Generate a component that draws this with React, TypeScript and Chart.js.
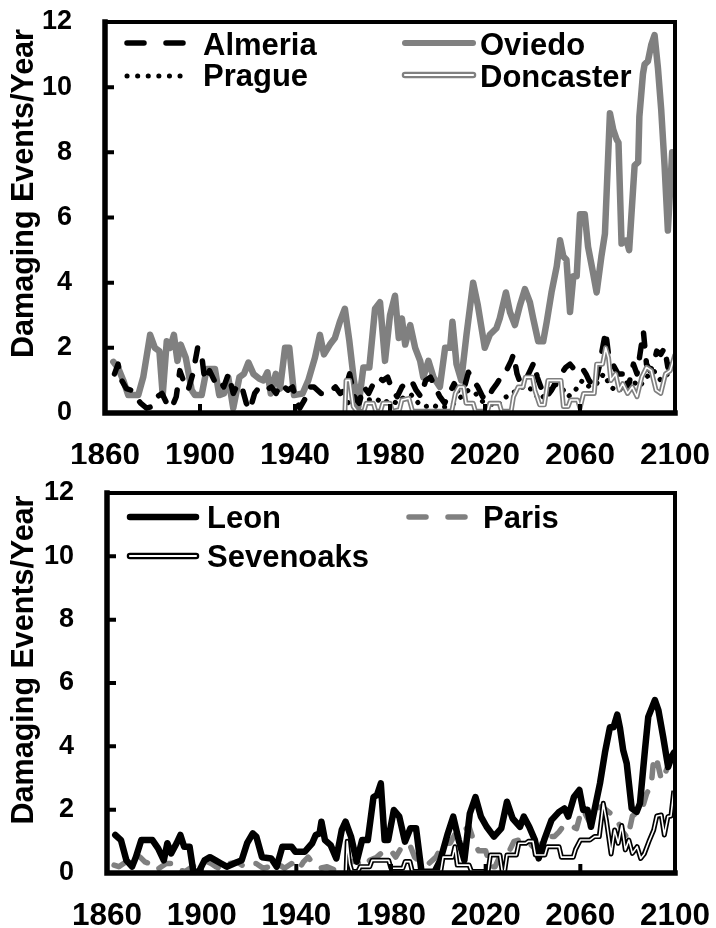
import React, { useEffect, useRef } from "react";
import { Chart, registerables } from "chart.js";

Chart.register(...registerables);

const FONT = "'Liberation Sans', Arial, Helvetica, sans-serif";

// ---------- axes ----------
const xTickValues = [1860, 1900, 1940, 1980, 2020, 2060, 2100];
const xTickLabels = ["1860", "1900", "1940", "1980", "2020", "2060", "2100"];
const yTickValues = [0, 2, 4, 6, 8, 10, 12];
const yTickLabels = ["0", "2", "4", "6", "8", "10", "12"];
const yAxisTitle = "Damaging Events/Year";

// ---------- top panel ----------
const oviedoYears = [1863.5, 1865.6, 1867.7, 1869.8, 1874, 1876.1, 1879, 1881, 1882.9, 1884.3, 1886, 1887.4, 1889, 1890.5, 1891.9, 1894, 1896.5, 1897.9, 1900.7, 1902.8, 1906.3, 1908.1, 1910.1, 1911.9, 1914, 1916.6, 1918.5, 1920.4, 1922.5, 1925, 1926.7, 1928.4, 1929.8, 1931.9, 1933.7, 1935.8, 1937.6, 1939.6, 1943.2, 1945.6, 1948.4, 1950.5, 1952.2, 1954.7, 1956.8, 1958.9, 1961, 1962.9, 1964.8, 1966.7, 1968.8, 1971.3, 1973.7, 1975.8, 1977.9, 1980, 1982.1, 1983.7, 1985, 1986.4, 1988.5, 1990.6, 1992.7, 1994, 1996.2, 1998.3, 2001, 2003.2, 2005.3, 2006.3, 2008, 2010, 2012.2, 2015, 2017, 2019.9, 2022, 2024.8, 2026.2, 2028.8, 2030.5, 2032.6, 2034.7, 2036.8, 2038.9, 2040.3, 2042.4, 2044.5, 2046, 2048, 2050.2, 2051.6, 2053, 2054.3, 2055.8, 2057.2, 2058.6, 2060, 2062, 2063.4, 2065.5, 2067, 2069, 2070.5, 2072.6, 2074, 2075.4, 2076.2, 2077.5, 2079.6, 2080.7, 2083, 2084.5, 2085, 2086.5, 2087.2, 2088.6, 2090, 2091.4, 2092.8, 2094.2, 2095.6, 2097, 2098.8];
const oviedoValues = [1.57, 1.37, 1.0, 0.55, 0.55, 1.1, 2.4, 2.0, 1.9, 0.55, 2.2, 2.0, 2.4, 1.6, 2.1, 1.7, 0.7, 0.55, 0.55, 1.35, 1.35, 0.55, 0.6, 1.1, 0.15, 1.1, 1.2, 1.55, 1.2, 1.05, 1.0, 1.25, 0.6, 1.2, 0.75, 2.0, 2.0, 0.55, 0.6, 1.0, 1.7, 2.4, 1.8, 2.1, 2.3, 2.8, 3.2, 2.2, 1.0, 0.2, 1.4, 1.4, 3.2, 3.4, 1.6, 3.0, 3.6, 2.3, 2.9, 2.1, 2.7, 2.0, 1.6, 1.1, 1.6, 1.1, 0.8, 2.0, 2.0, 2.8, 1.5, 1.0, 2.4, 4.0, 3.3, 2.0, 2.4, 2.6, 2.9, 3.7, 3.1, 2.7, 3.3, 3.8, 3.4, 2.9, 2.2, 2.2, 2.8, 3.7, 4.5, 5.3, 4.8, 4.7, 3.1, 4.2, 4.2, 6.1, 6.1, 5.1, 4.3, 3.7, 4.8, 5.5, 9.2, 8.7, 8.4, 8.3, 5.2, 5.3, 5.0, 7.6, 7.7, 9.1, 10.4, 10.7, 10.8, 11.3, 11.6, 10.6, 9.3, 7.6, 5.6, 8.0];

const almeriaYears = [1864, 1865.5, 1867, 1869, 1871, 1873, 1875, 1877.5, 1880, 1882, 1884, 1886, 1888, 1890, 1891.5, 1893, 1895, 1897, 1899, 1900.5, 1902, 1904, 1906, 1908, 1910, 1912, 1914, 1916, 1918, 1919.5, 1921, 1923, 1925, 1928, 1930, 1932, 1934, 1937, 1939, 1940.5, 1942, 1944, 1946, 1948, 1951, 1954, 1957, 1959, 1961, 1963, 1965, 1967, 1969, 1971, 1973, 1975, 1977, 1979, 1981, 1983, 1985, 1987, 1989, 1991, 1993, 1995, 1997, 1999, 2001, 2003, 2005, 2007, 2009, 2011, 2013, 2015, 2017, 2019, 2021, 2023, 2025, 2027, 2029, 2031, 2032, 2033.5, 2035, 2037, 2039, 2040.6, 2042, 2044, 2046, 2048, 2049.5, 2052, 2054, 2055.8, 2058, 2060.7, 2062.5, 2063.8, 2066, 2068, 2070.8, 2072, 2074.5, 2076, 2078, 2080, 2082.5, 2084, 2086.7, 2088, 2089.5, 2091, 2092.3, 2094, 2095.6, 2097, 2099];
const almeriaValues = [1.2, 1.5, 1.0, 0.75, 0.7, 0.5, 0.3, 0.15, 0.2, 0.5, 0.6, 0.3, 0.15, 0.5, 1.3, 1.0, 0.7, 1.2, 2.0, 1.9, 1.0, 1.3, 1.0, 1.1, 0.8, 1.2, 0.6, 0.9, 0.7, 0.3, 0.1, 0.6, 0.8, 0.7, 0.8, 0.6, 0.9, 0.7, 0.8, 0.4, 0.15, 0.4, 0.8, 0.8, 0.6, 0.6, 0.8, 0.6, 0.7, 1.2, 0.5, 0.3, 0.8, 0.6, 0.9, 1.1, 1.0, 1.1, 0.7, 0.5, 0.8, 0.95, 1.0, 0.7, 0.5, 1.0, 1.1, 0.8, 0.5, 0.3, 0.6, 0.9, 0.6, 0.7, 1.25, 1.0, 0.8, 0.5, 0.4, 0.7, 0.9, 1.15, 1.3, 1.6, 1.8, 1.2, 0.9, 1.0, 1.3, 1.55, 1.1, 0.7, 0.5, 0.7, 0.9, 1.2, 1.4, 1.5, 1.3, 1.4, 1.2, 1.0, 0.8, 1.4, 2.5, 1.8, 1.4, 1.2, 1.2, 0.7, 1.5, 1.2, 2.5, 1.5, 1.3, 1.5, 1.9, 1.8, 2.0, 1.4, 1.5];

const pragueYears = [1961, 1963, 1965, 1968, 1971, 1974, 1977, 1980, 1983, 1986, 1989, 1992, 1995, 1998, 2001, 2004, 2007, 2010, 2013, 2016, 2019, 2022, 2025, 2028, 2031, 2034, 2037, 2040, 2043, 2046, 2049, 2052, 2055, 2058, 2061, 2064, 2067, 2070, 2073, 2076, 2079, 2082, 2085, 2088, 2091, 2094, 2097, 2100];
const pragueValues = [0.6, 0.2, 0.4, 0.5, 0.4, 0.45, 0.3, 0.4, 0.3, 0.5, 0.55, 0.3, 0.2, 0.25, 0.15, 0.2, 0.3, 0.5, 0.7, 0.6, 0.35, 0.3, 0.2, 0.45, 0.6, 0.7, 0.85, 0.7, 0.4, 0.6, 0.9, 0.8, 0.5, 0.7, 1.0, 0.8, 0.9, 1.2, 0.8, 0.65, 0.9, 1.0, 0.8, 1.1, 1.3, 1.0, 1.2, 1.4];

const doncasterYears = [1961, 1961.5, 1963, 1964.5, 1966, 1969, 1970, 1973, 1974, 1976, 1977, 1980, 1981, 1984, 1985, 1988, 1989.5, 2006, 2007.5, 2009, 2011, 2012, 2015, 2016, 2021, 2022, 2026, 2027, 2031, 2032, 2034, 2036, 2037, 2040, 2041, 2043, 2045, 2046.5, 2052, 2053, 2055, 2056, 2059, 2060, 2061.5, 2066, 2067, 2069.5, 2070.8, 2072, 2073, 2075, 2076.5, 2078, 2080, 2082, 2084, 2086, 2088, 2090, 2092, 2094, 2096, 2098, 2100];
const doncasterValues = [0, 1.0, 1.0, 0.2, 0.05, 0.05, 0.3, 0.3, 0.05, 0.05, 0.3, 0.3, 0.05, 0.1, 0.4, 0.45, 0.05, 0.05, 0.6, 0.8, 0.8, 0.3, 0.3, 0.05, 0.05, 0.3, 0.3, 0.05, 0.05, 0.5, 0.8, 0.8, 1.1, 1.1, 0.7, 0.25, 0.25, 1.0, 1.0, 0.2, 0.2, 0.4, 0.4, 0.15, 0.6, 0.6, 1.5, 1.5, 2.0, 1.7, 1.0, 1.2, 0.7, 0.9, 0.6, 0.8, 0.5, 1.1, 1.4, 1.3, 0.7, 0.6, 1.2, 1.3, 1.8];

// ---------- bottom panel ----------
const leonYears = [1863.5, 1865.9, 1868.2, 1870.6, 1872.2, 1874.5, 1879.2, 1881.6, 1884, 1885.5, 1887.1, 1889.4, 1891, 1892.6, 1894.9, 1896.5, 1898.8, 1901.2, 1903.5, 1905.9, 1908.2, 1910.6, 1913.7, 1916.9, 1919.2, 1921.6, 1923.1, 1925.5, 1929.4, 1931.7, 1934.1, 1938, 1939.6, 1943.5, 1946.7, 1948.2, 1949.8, 1950.6, 1952.1, 1954.5, 1956.9, 1959.2, 1960.8, 1963.1, 1965.5, 1967.8, 1970.2, 1972.6, 1974.1, 1975.7, 1977.3, 1978.8, 1981.2, 1983.5, 1985.9, 1988.2, 1990.6, 1992.9, 1998.4, 2000.8, 2004, 2006.3, 2008.6, 2011, 2013.3, 2015.7, 2018, 2020.4, 2023.5, 2026.6, 2029, 2031.4, 2034.5, 2036.1, 2038.4, 2040.8, 2042.4, 2044.7, 2047.8, 2051, 2053.3, 2054.9, 2057.3, 2059.6, 2061.2, 2063, 2064.5, 2066, 2068.3, 2070.4, 2072.5, 2074, 2075.6, 2076.7, 2078.1, 2079.6, 2081.7, 2083.8, 2085.2, 2087.3, 2088.7, 2091.5, 2093, 2095, 2097.1, 2098.6, 2099.5];
const leonValues = [1.2, 1.04, 0.4, 0.2, 0.5, 1.04, 1.04, 0.78, 0.4, 0.94, 0.62, 0.94, 1.2, 0.83, 0.83, 0.04, 0.04, 0.4, 0.5, 0.4, 0.3, 0.2, 0.3, 0.4, 0.94, 1.25, 1.15, 0.5, 0.46, 0.2, 0.83, 0.83, 0.67, 0.67, 0.94, 1.2, 1.25, 1.62, 1.04, 0.88, 0.46, 1.36, 1.62, 1.15, 0.36, 1.04, 1.04, 2.4, 2.46, 2.83, 1.04, 1.04, 1.99, 1.78, 0.99, 1.41, 1.41, 0.04, 0.04, 0.4, 1.25, 1.78, 1.04, 0.4, 1.88, 2.4, 1.78, 1.46, 1.15, 1.41, 2.25, 1.72, 1.46, 1.78, 1.46, 1.04, 0.46, 1.04, 1.67, 1.93, 2.04, 1.78, 2.4, 2.62, 1.99, 2.0, 1.46, 2.0, 2.83, 3.8, 4.6, 4.6, 5.0, 4.6, 3.88, 3.46, 2.04, 1.93, 2.2, 3.88, 4.93, 5.46, 5.14, 4.3, 3.35, 3.67, 3.8];

const parisYears = [1863, 1865, 1867, 1869, 1872, 1874, 1876, 1878, 1880, 1882, 1885, 1888, 1890, 1893, 1896, 1899, 1901, 1904, 1906, 1909, 1912, 1915, 1918, 1921, 1923, 1926, 1929, 1932, 1935, 1938, 1941, 1943, 1945, 1947, 1950, 1953, 1956, 1959, 1962, 1965, 1968, 1971, 1974, 1977, 1980, 1982, 1985, 1988, 1990, 1993, 1996, 1999, 2002, 2005, 2008, 2011, 2013, 2015, 2017, 2020, 2022, 2024, 2027, 2030, 2032, 2034, 2037, 2040, 2043, 2045, 2049, 2051, 2053, 2056, 2058.4, 2060.5, 2062, 2064, 2066, 2069, 2072.5, 2074, 2076, 2078, 2080, 2082, 2086, 2088, 2090, 2090.8, 2092, 2094.3, 2096.4, 2098, 2099.5];
const parisValues = [0.25, 0.2, 0.3, 0.4, 0.6, 0.5, 0.35, 0.3, 0.1, 0.15, 0.3, 0.3, 0.1, 0.05, 0.2, 0.3, 0.4, 0.3, 0.2, 0.1, 0.3, 0.35, 0.2, 0.3, 0.3, 0.15, 0.2, 0.3, 0.15, 0.3, 0.1, 0.35, 0.5, 0.3, 0.15, 0.2, 0.1, 0.25, 0.3, 0.4, 0.2, 0.4, 0.5, 0.7, 0.7, 0.5, 0.88, 0.88, 0.5, 0.3, 0.3, 0.5, 0.94, 0.94, 1.36, 1.36, 1.46, 1.0, 0.7, 0.7, 0.2, 0.2, 0.7, 0.7, 1.0, 1.04, 1.04, 0.83, 0.83, 1.15, 1.15, 1.3, 1.5, 1.5, 1.4, 2.0, 1.88, 1.6, 2.0, 2.1, 1.9, 1.8, 1.6, 1.3, 1.1, 1.8, 2.0, 2.5, 2.8, 3.46, 3.67, 2.93, 3.25, 3.56, 3.6];

const sevenoaksYears = [1961, 1961.5, 1962.5, 1963.5, 1966, 1967, 1971, 1972, 1979, 1980, 1985, 1986, 1988, 1989, 2001, 2002, 2006, 2007, 2008, 2013, 2014, 2021, 2022, 2026, 2027, 2028, 2029, 2033, 2034, 2037, 2038, 2040, 2041, 2045, 2046, 2051, 2052, 2057, 2058, 2060, 2064, 2066, 2068, 2069.7, 2071, 2073, 2074.5, 2076, 2077.5, 2079, 2080.5, 2082, 2084, 2085.5, 2087, 2089, 2091, 2092.3, 2094.2, 2095.5, 2097, 2098.3, 2099.5];
const sevenoaksValues = [0, 1.0, 0.3, 0.05, 0.05, 0.2, 0.2, 0.4, 0.4, 0.15, 0.15, 0.36, 0.36, 0.05, 0.05, 0.5, 0.5, 0.83, 0.25, 0.25, 0.05, 0.05, 0.57, 0.57, 0.05, 0.05, 0.57, 0.57, 0.94, 0.94, 1.0, 1.0, 0.57, 0.57, 0.83, 0.83, 0.5, 0.5, 0.75, 1.04, 1.04, 1.15, 1.15, 2.2, 1.67, 0.6, 1.36, 0.94, 1.5, 0.73, 1.04, 0.62, 0.83, 0.46, 0.6, 1.0, 1.36, 1.8, 1.83, 1.2, 1.78, 1.8, 2.6];

// ---------- helpers ----------
const pts = (years: number[], values: number[]) => years.map((x, i) => ({ x, y: values[i] }));

const GRAY = "#808080";

type LegendItem = { label: string; ds: number[]; x0: number; x1: number; y: number; tx: number; ty: number };

const decoPlugin = {
  id: "deco",
  afterDraw(chart: any, _args: any, opts: any) {
    const { ctx, chartArea: a, scales } = chart;
    ctx.save();
    // frame
    ctx.strokeStyle = "#000";
    ctx.lineCap = "square";
    ctx.lineWidth = 4;
    ctx.strokeRect(a.left, a.top, a.right - a.left, a.bottom - a.top);
    ctx.lineWidth = 5.5;
    ctx.beginPath();
    ctx.moveTo(a.left, a.top);
    ctx.lineTo(a.left, a.bottom);
    ctx.lineTo(a.right, a.bottom);
    ctx.stroke();
    // inward ticks
    ctx.lineWidth = 4;
    ctx.lineCap = "butt";
    ctx.beginPath();
    yTickValues.forEach((v) => {
      const y = scales.y.getPixelForValue(v);
      ctx.moveTo(a.left, y);
      ctx.lineTo(a.left + 9, y);
    });
    xTickValues.forEach((v) => {
      const x = scales.x.getPixelForValue(v);
      ctx.moveTo(x, a.bottom);
      ctx.lineTo(x, a.bottom - 9);
    });
    ctx.stroke();
    // y axis title
    ctx.fillStyle = "#000";
    ctx.font = `bold 30.5px ${FONT}`;
    ctx.textAlign = "center";
    ctx.textBaseline = "middle";
    ctx.save();
    ctx.translate(opts.titleX, (a.top + a.bottom) / 2 + opts.titleDy);
    ctx.rotate(-Math.PI / 2);
    ctx.fillText(yAxisTitle, 0, 0);
    ctx.restore();
    // legend
    (opts.items as LegendItem[]).forEach((it) => {
      it.ds.forEach((idx) => {
        const d = chart.data.datasets[idx];
        ctx.save();
        ctx.strokeStyle = d.borderColor;
        ctx.lineWidth = d.legendWidth ?? d.borderWidth;
        ctx.lineCap = d.borderCapStyle || "round";
        ctx.setLineDash(d.legendDash || d.borderDash || []);
        ctx.beginPath();
        ctx.moveTo(it.x0, it.y);
        ctx.lineTo(it.x1, it.y);
        ctx.stroke();
        ctx.restore();
      });
      ctx.font = `bold 31px ${FONT}`;
      ctx.textAlign = "left";
      ctx.textBaseline = "alphabetic";
      ctx.fillStyle = "#000";
      ctx.fillText(it.label, it.tx, it.ty);
    });
    ctx.restore();
  },
};

function makeOptions(pad: { top: number; right: number }, yWidth: number, xHeight: number, deco: any) {
  return {
    responsive: false,
    animation: false as const,
    events: [],
    layout: { padding: { left: 0, right: pad.right, top: pad.top, bottom: 0 } },
    plugins: {
      legend: { display: false },
      tooltip: { enabled: false },
      deco,
    },
    elements: { point: { radius: 0 }, line: { tension: 0, borderJoinStyle: "round" as const } },
    scales: {
      x: {
        type: "linear" as const,
        min: 1860,
        max: 2100,
        afterBuildTicks: (s: any) => {
          s.ticks = xTickValues.map((v) => ({ value: v }));
        },
        afterFit: (s: any) => {
          s.height = xHeight;
          s.paddingLeft = 0;
          s.paddingRight = 0;
        },
        grid: { display: false, drawTicks: false },
        border: { display: false },
        ticks: {
          autoSkip: false,
          maxRotation: 0,
          padding: 24,
          color: "#000",
          font: { family: FONT, size: 31.5, weight: "bold" as const },
          callback: (v: any) => {
            const i = xTickValues.indexOf(Number(v));
            return i >= 0 ? xTickLabels[i] : "";
          },
        },
      },
      y: {
        type: "linear" as const,
        min: 0,
        max: 12,
        afterBuildTicks: (s: any) => {
          s.ticks = yTickValues.map((v) => ({ value: v }));
        },
        afterFit: (s: any) => {
          s.width = yWidth;
          s.paddingTop = 0;
          s.paddingBottom = 0;
        },
        grid: { display: false, drawTicks: false },
        border: { display: false },
        ticks: {
          autoSkip: false,
          padding: 33,
          color: "#000",
          font: { family: FONT, size: 27, weight: "bold" as const },
          callback: (v: any) => {
            const i = yTickValues.indexOf(Number(v));
            return i >= 0 ? yTickLabels[i] : "";
          },
        },
      },
    },
  };
}

function topConfig(): any {
  return {
    type: "line",
    data: {
      datasets: [
        { label: "Doncaster inner", data: pts(doncasterYears, doncasterValues), borderColor: "#ffffff", borderWidth: 1.6, legendWidth: 2.2, order: 0 },
        { label: "Doncaster", data: pts(doncasterYears, doncasterValues), borderColor: GRAY, borderWidth: 5, legendWidth: 6.5, order: 1 },
        { label: "Prague", data: pts(pragueYears, pragueValues), borderColor: "#000", borderWidth: 5, borderDash: [0.1, 9.5], legendDash: [0.1, 10.5], borderCapStyle: "round", order: 2 },
        { label: "Almeria", data: pts(almeriaYears, almeriaValues), borderColor: "#000", borderWidth: 5.5, borderDash: [13, 15], legendDash: [17, 22], borderCapStyle: "round", order: 3 },
        { label: "Oviedo", data: pts(oviedoYears, oviedoValues), borderColor: GRAY, borderWidth: 6.5, legendWidth: 6, borderCapStyle: "round", order: 4 },
      ],
    },
    options: makeOptions({ top: 22, right: 41 }, 105, 51, {
      titleX: 25,
      titleDy: -24,
      items: [
        { label: "Almeria", ds: [3], x0: 127, x1: 186, y: 43, tx: 203, ty: 55 },
        { label: "Prague", ds: [2], x0: 127, x1: 188, y: 76, tx: 203, ty: 86 },
        { label: "Oviedo", ds: [4], x0: 405, x1: 473, y: 43, tx: 480, ty: 55 },
        { label: "Doncaster", ds: [1, 0], x0: 405, x1: 473, y: 75, tx: 480, ty: 87 },
      ],
    }),
    plugins: [decoPlugin],
  };
}

function bottomConfig(): any {
  return {
    type: "line",
    data: {
      datasets: [
        { label: "Sevenoaks inner", data: pts(sevenoaksYears, sevenoaksValues), borderColor: "#ffffff", borderWidth: 1.6, legendWidth: 2.2, order: 0 },
        { label: "Sevenoaks", data: pts(sevenoaksYears, sevenoaksValues), borderColor: "#000", borderWidth: 5, legendWidth: 6.5, order: 1 },
        { label: "Leon", data: pts(leonYears, leonValues), borderColor: "#000", borderWidth: 6.5, legendWidth: 6.5, borderCapStyle: "round", order: 2 },
        { label: "Paris", data: pts(parisYears, parisValues), borderColor: GRAY, borderWidth: 5.5, borderDash: [13, 15], legendDash: [17, 22], borderCapStyle: "round", order: 3 },
      ],
    },
    options: makeOptions({ top: 29, right: 41 }, 107, 55, {
      titleX: 25,
      titleDy: -23,
      items: [
        { label: "Leon", ds: [2], x0: 130, x1: 196, y: 53, tx: 207, ty: 64 },
        { label: "Sevenoaks", ds: [1, 0], x0: 130, x1: 196, y: 92, tx: 207, ty: 103 },
        { label: "Paris", ds: [3], x0: 409, x1: 466, y: 53, tx: 483, ty: 64 },
      ],
    }),
    plugins: [decoPlugin],
  };
}

function Panel({ make, top }: { make: () => any; top: number }) {
  const ref = useRef<HTMLCanvasElement>(null);
  useEffect(() => {
    if (!ref.current) return;
    const chart = new Chart(ref.current, make());
    return () => chart.destroy();
  }, [make]);
  return (
    <canvas
      ref={ref}
      width={716}
      height={464}
      style={{ position: "absolute", left: 0, top, width: 716, height: 464, display: "block" }}
    />
  );
}

export default function App() {
  return (
    <div style={{ position: "absolute", left: 0, top: 0, width: 716, height: 928, background: "#fff", overflow: "hidden" }}>
      <Panel make={topConfig} top={0} />
      <Panel make={bottomConfig} top={464} />
    </div>
  );
}
